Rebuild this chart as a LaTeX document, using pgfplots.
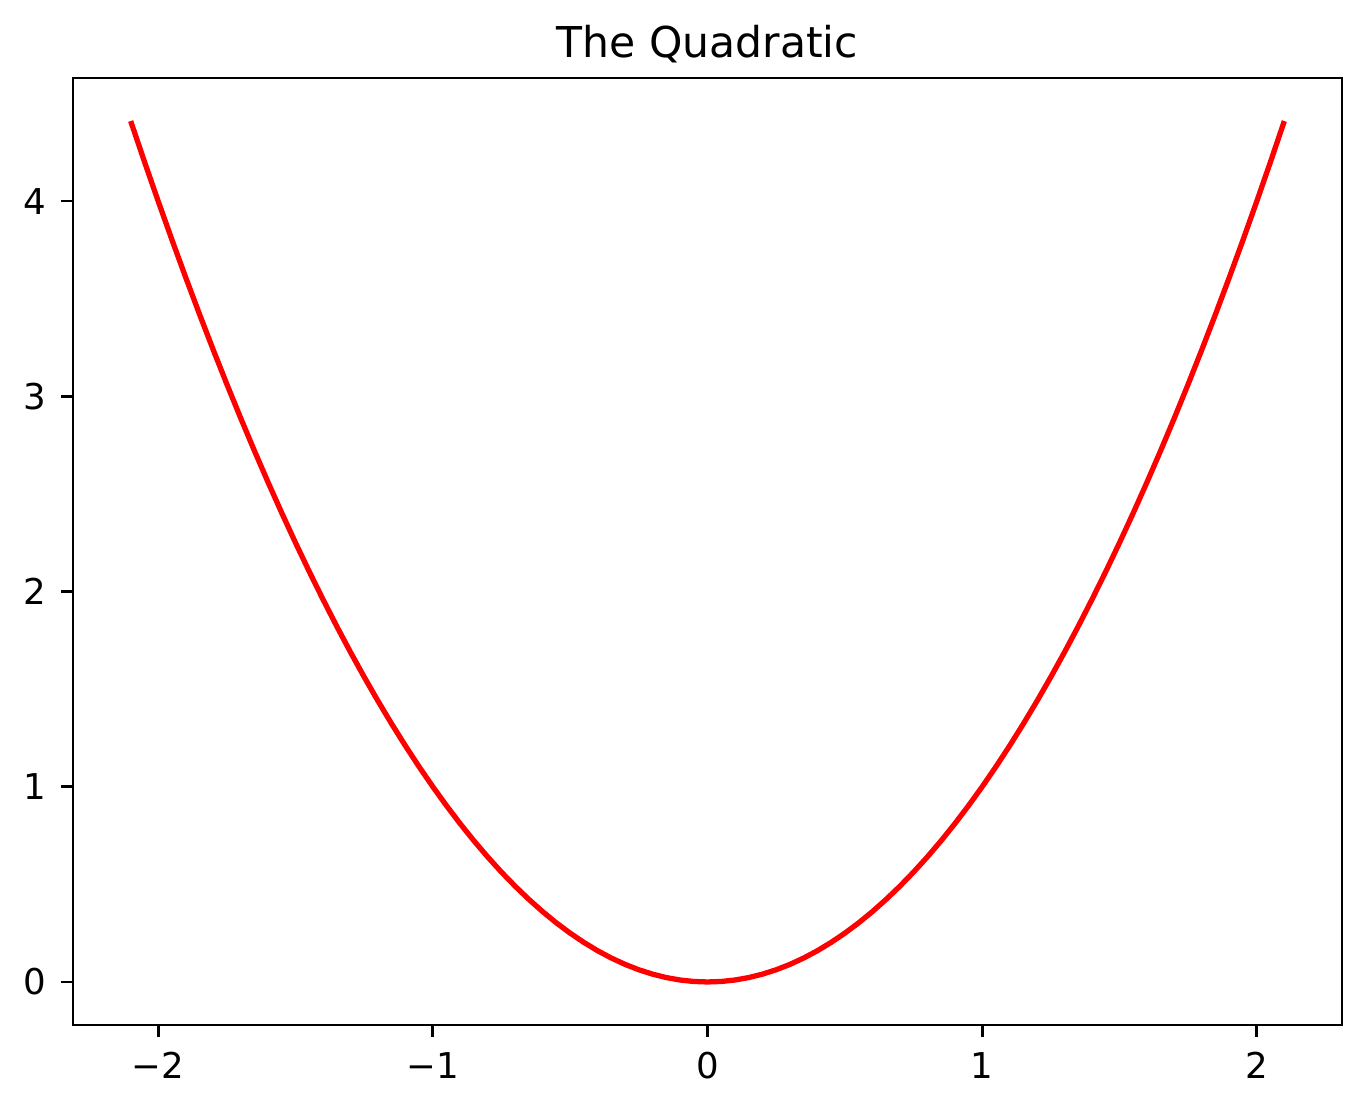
\documentclass[border=0pt]{standalone}
\usepackage{fontspec}
\setmainfont{DejaVu Sans}
\usepackage{pgfplots}
\pgfplotsset{compat=1.18}
\usepackage{pgfplotstable}

% y = x^2 sampled every 0.05
\pgfplotstableread{
x y
-2.10 4.4100
-2.05 4.2025
-2.00 4.0000
-1.95 3.8025
-1.90 3.6100
-1.85 3.4225
-1.80 3.2400
-1.75 3.0625
-1.70 2.8900
-1.65 2.7225
-1.60 2.5600
-1.55 2.4025
-1.50 2.2500
-1.45 2.1025
-1.40 1.9600
-1.35 1.8225
-1.30 1.6900
-1.25 1.5625
-1.20 1.4400
-1.15 1.3225
-1.10 1.2100
-1.05 1.1025
-1.00 1.0000
-0.95 0.9025
-0.90 0.8100
-0.85 0.7225
-0.80 0.6400
-0.75 0.5625
-0.70 0.4900
-0.65 0.4225
-0.60 0.3600
-0.55 0.3025
-0.50 0.2500
-0.45 0.2025
-0.40 0.1600
-0.35 0.1225
-0.30 0.0900
-0.25 0.0625
-0.20 0.0400
-0.15 0.0225
-0.10 0.0100
-0.05 0.0025
0.00 0.0000
0.05 0.0025
0.10 0.0100
0.15 0.0225
0.20 0.0400
0.25 0.0625
0.30 0.0900
0.35 0.1225
0.40 0.1600
0.45 0.2025
0.50 0.2500
0.55 0.3025
0.60 0.3600
0.65 0.4225
0.70 0.4900
0.75 0.5625
0.80 0.6400
0.85 0.7225
0.90 0.8100
0.95 0.9025
1.00 1.0000
1.05 1.1025
1.10 1.2100
1.15 1.3225
1.20 1.4400
1.25 1.5625
1.30 1.6900
1.35 1.8225
1.40 1.9600
1.45 2.1025
1.50 2.2500
1.55 2.4025
1.60 2.5600
1.65 2.7225
1.70 2.8900
1.75 3.0625
1.80 3.2400
1.85 3.4225
1.90 3.6100
1.95 3.8025
2.00 4.0000
2.05 4.2025
2.10 4.4100
}\quadratic

\begin{document}
\begin{tikzpicture}
	\useasboundingbox (-26.28pt,-30.6pt) rectangle (466.2pt,369pt);
	\begin{axis}[
			at={(0,0)},
			anchor=south west,
			scale only axis,
			width=456.84pt,
			height=340.92pt,
			xmin=-2.31,
			xmax=2.31,
			ymin=-0.2205,
			ymax=4.6305,
			axis line style={line width=1pt},
			tick style={black, line width=1pt},
			major tick length=4.3pt,
			tick align=outside,
			xtick pos=bottom,
			ytick pos=left,
			xtick={-2,-1,0,1,2},
			xticklabels={−2,−1,0,1,2},
			ytick={0,1,2,3,4},
			ticklabel style={font=\fontsize{12.8}{15}\selectfont, inner sep=0pt},
			xticklabel style={anchor=north, yshift=-5.4pt},
			yticklabel style={anchor=east, xshift=-5.2pt},
			/pgf/number format/assume math mode=true,
			title={The Quadratic},
			every axis title shift=0pt,
			title style={font=\fontsize{15.3}{18}\selectfont, at={(0.5,1)}, anchor=base, yshift=7.2pt, inner sep=0pt},
		]
		\addplot[red, line width=1.9pt, no markers] table[x=x, y=y] {\quadratic};
	\end{axis}
\end{tikzpicture}
\end{document}
